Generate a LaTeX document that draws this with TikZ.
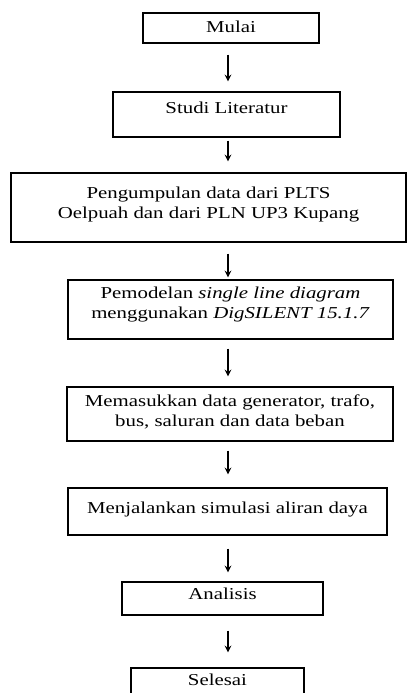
\documentclass[tikz,border=0pt]{standalone}
\usepackage{fontspec}
\setmainfont{Liberation Serif}[FakeStretch=1.25]
\usetikzlibrary{arrows}
\tikzstyle{process} = [rectangle, 
inner xsep=0pt, 
inner ysep=0pt, 
align=center, 
draw=black, 
line width=0.8pt]
\tikzstyle{arrow} = [thick,->,>=stealth]

\begin{document}
\begin{tikzpicture}[node distance=56pt]
\useasboundingbox (0,0) rectangle (245.4pt,-415.8pt);
\coordinate (ax) at (136.8pt,0);

\node (mulai) [process, minimum width=105.6pt, text height=11.4pt, text depth=6.6pt] at (138.6pt,-16.8pt) {Mulai};
\node (studi) [process, below of=mulai, xshift=-2.7pt, yshift=4.1pt, minimum width=136.2pt, text height=12.6pt, text depth=14.4pt] {Studi Literatur};
\node (data) [process, below of=studi, xshift=-10.8pt, yshift=0.2pt, minimum width=237pt, text height=27pt, text depth=14.4pt] {Pengumpulan data dari PLTS\\Oelpuah dan dari PLN UP3 Kupang};
\node (model) [process, below of=data, xshift=13.2pt, yshift=-5.2pt, minimum width=195pt, text height=22.8pt, text depth=12.6pt] {Pemodelan \textit{single line diagram}\\menggunakan \textit{DigSILENT 15.1.7}};
\node (input) [process, below of=model, xshift=-0.3pt, yshift=-6.7pt, minimum width=195.6pt, text height=23.4pt, text depth=9pt] {Memasukkan data generator, trafo,\\bus, saluran dan data beban};
\node (simul) [process, below of=input, xshift=-1.5pt, yshift=-2.5pt, minimum width=191.4pt, text height=15pt, text depth=13.2pt] {Menjalankan simulasi aliran daya};
\node (analisis) [process, below of=simul, xshift=-3pt, yshift=3.8pt, minimum width=120.6pt, text height=10.2pt, text depth=9.6pt] {Analisis};
\node (selesai) [process, below of=analisis, xshift=-3pt, yshift=3.8pt, minimum width=103.8pt, text height=10.2pt, text depth=10.8pt] {Selesai};

\draw [arrow, shorten <=6.6pt, shorten >=6pt] (mulai.south -| ax) -- (studi.north -| ax);
\draw [arrow, shorten <=1.8pt, shorten >=6.6pt] (studi.south -| ax) -- (data.north -| ax);
\draw [arrow, shorten <=6.6pt, shorten >=1.2pt] (data.south -| ax) -- (model.north -| ax);
\draw [arrow, shorten <=5.4pt, shorten >=6pt] (model.south -| ax) -- (input.north -| ax);
\draw [arrow, shorten <=5.4pt, shorten >=7.8pt] (input.south -| ax) -- (simul.north -| ax);
\draw [arrow, shorten <=7.8pt, shorten >=5.4pt] (simul.south -| ax) -- (analisis.north -| ax);
\draw [arrow, shorten <=9pt, shorten >=9pt] (analisis.south -| ax) -- (selesai.north -| ax);

\end{tikzpicture}
\end{document}
